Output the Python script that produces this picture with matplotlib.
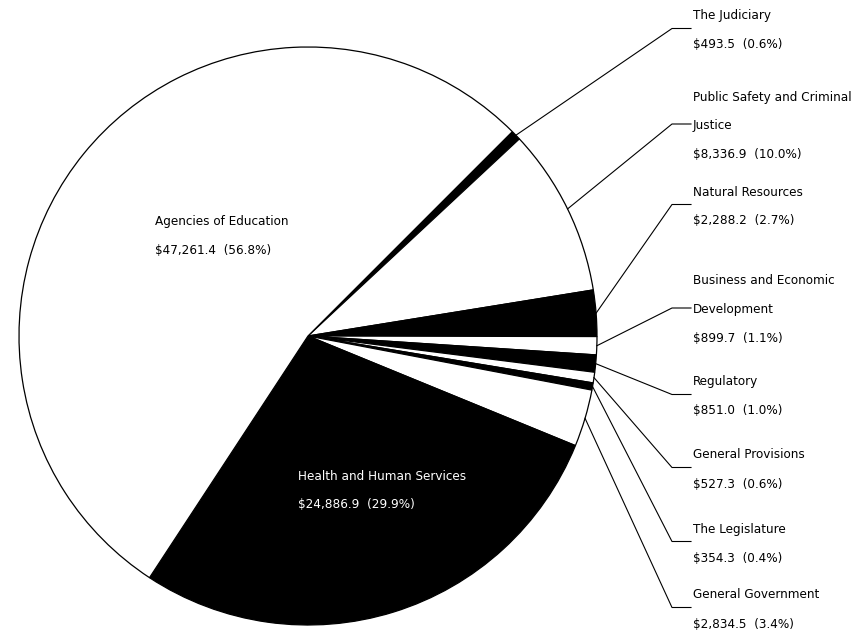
import numpy as np
import matplotlib
matplotlib.use('Agg')
import matplotlib.pyplot as plt
from matplotlib import font_manager

# budget by function, clockwise from the top right
names = ['The Judiciary', 'Public Safety and Criminal\nJustice', 'Natural Resources',
         'Business and Economic\nDevelopment', 'Regulatory', 'General Provisions',
         'The Legislature', 'General Government', 'Health and Human Services',
         'Agencies of Education']
values = [493.5, 8336.9, 2288.2, 899.7, 851.0, 527.3, 354.3, 2834.5, 24886.9, 47261.4]
pcts = [0.6, 10.0, 2.7, 1.1, 1.0, 0.6, 0.4, 3.4, 29.9, 56.8]

cond = [f for f in font_manager.fontManager.ttflist
        if f.name == 'DejaVu Sans' and 'ondensed' in f.fname]
plt.rcParams['font.family'] = ['DejaVu Sans']

W, H = 862, 633
fig = plt.figure(figsize=(W/100, H/100), dpi=100)
ax = fig.add_axes([0, 0, 1, 1])

cx, cy, R = 308, H - 336, 289
colors = ['black' if i % 2 == 0 else 'white' for i in range(len(values))]
wedges, _ = ax.pie(values, center=(cx, cy), radius=R, startangle=45, counterclock=False,
                   colors=colors, wedgeprops=dict(edgecolor='black', linewidth=0.9),
                   frame=True)
ax.set_xlim(0, W)
ax.set_ylim(0, H)
ax.set_aspect('auto')
ax.axis('off')

fs = 9.6 if cond else 8.8
stretch = 'condensed' if cond else 'normal'
step = 29

def label_lines(i):
    return names[i].split('\n') + ['\\$%s  (%.1f%%)' % (format(values[i], ',.1f'), pcts[i])]

# outside labels for the small slices
first_y = [16, 97, 192, 281, 382, 455, 529, 595]
for i, y0 in enumerate(first_y):
    lines = label_lines(i)
    for k, s in enumerate(lines):
        ax.text(693, H - (y0 + k*step), s, fontsize=fs, fontstretch=stretch,
                va='center', ha='left')
    yh = H - (y0 + (len(lines) - 1)*step/2 - 2)
    w = wedges[i]
    a = np.deg2rad((w.theta1 + w.theta2)/2)
    ex, ey = cx + R*np.cos(a), cy + R*np.sin(a)
    ax.plot([ex, 672, 691], [ey, yh, yh], color='black', lw=0.8)

# inside labels
for i, (x0, y0, c) in zip([9, 8], [(155, 222, 'black'), (298, 476, 'white')]):
    for k, s in enumerate(label_lines(i)):
        ax.text(x0, H - (y0 + k*28), s, fontsize=fs, fontstretch=stretch,
                va='center', ha='left', color=c)

fig.savefig('out.png', dpi=100)
